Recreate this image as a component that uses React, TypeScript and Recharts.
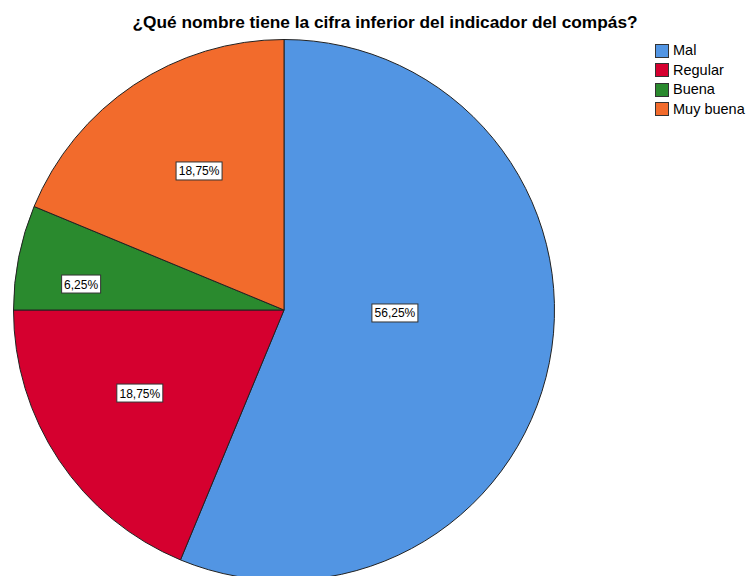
import { PieChart, Pie, Cell, Legend } from "recharts"

const categories = ["Mal", "Regular", "Buena", "Muy buena"]
const percents = [56.25, 18.75, 6.25, 18.75]
const colors = ["#5295E3", "#D5002F", "#2A8A2E", "#F26B2C"]

// label anchor relative to the pie centre, in fractions of the radius
const labelOffsets = [
  [0.41, 0.011],
  [-0.533, 0.307],
  [-0.75, -0.096],
  [-0.314, -0.514],
]

const data = categories.map((name, i) => ({ name, value: percents[i] }))

const fmt = (v: number) => v.toFixed(2).replace(".", ",") + "%"

const renderLabel = (props: any) => {
  const { cx, cy, outerRadius, index, value } = props
  const [fx, fy] = labelOffsets[index]
  const x = cx + fx * outerRadius
  const y = cy + fy * outerRadius
  const text = fmt(value)
  const w = text.length * 7 + 4
  return (
    <g>
      <rect x={x - w / 2} y={y - 9} width={w} height={18} fill="#fff" stroke="#333" strokeWidth={1} />
      <text x={x} y={y + 4.5} textAnchor="middle" fontSize={12} fontFamily="Liberation Sans, Arial" fill="#000">
        {text}
      </text>
    </g>
  )
}

const renderLegend = () => (
  <div style={{ fontFamily: "Liberation Sans, Arial", fontSize: 14.5, lineHeight: "19.5px" }}>
    {categories.map((c, i) => (
      <div key={c} style={{ display: "flex", alignItems: "center" }}>
        <span
          style={{
            width: 12,
            height: 12,
            background: colors[i],
            border: "1px solid #333",
            marginRight: 4,
            display: "inline-block",
          }}
        />
        <span>{c}</span>
      </div>
    ))}
  </div>
)

export default function App() {
  return (
    <div style={{ position: "absolute", top: 0, left: 0, width: 749, height: 576, background: "#fff", overflow: "hidden" }}>
      <div
        style={{
          position: "absolute",
          top: 12,
          left: 0,
          width: 770,
          textAlign: "center",
          fontFamily: "Liberation Sans, Arial",
          fontWeight: "bold",
          fontSize: 17.3,
          zIndex: 2,
        }}
      >
        ¿Qué nombre tiene la cifra inferior del indicador del compás?
      </div>
      <PieChart width={749} height={576} margin={{ top: 0, right: 0, bottom: 0, left: 0 }}>
        <Pie
          data={data}
          dataKey="value"
          nameKey="name"
          cx={284}
          cy={310}
          outerRadius={270.5}
          startAngle={90}
          endAngle={-270}
          stroke="#222"
          strokeWidth={1}
          label={renderLabel}
          labelLine={false}
          isAnimationActive={false}
        >
          {data.map((d, i) => (
            <Cell key={d.name} fill={colors[i]} />
          ))}
        </Pie>
        <Legend content={renderLegend} wrapperStyle={{ top: 41, left: 655, width: 100 }} />
      </PieChart>
    </div>
  )
}
